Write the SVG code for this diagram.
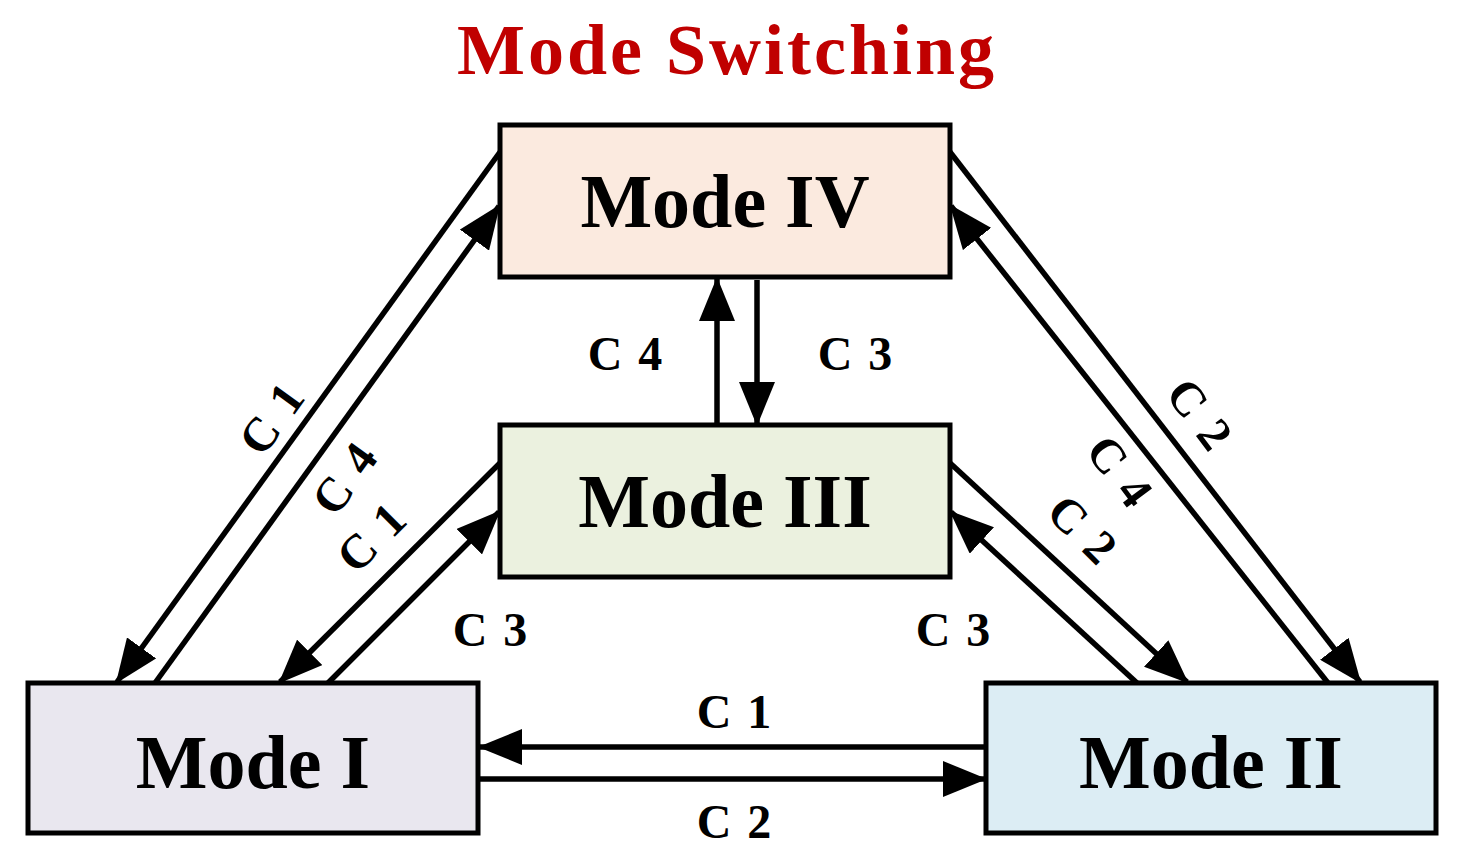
<svg xmlns="http://www.w3.org/2000/svg" width="1459" height="864" viewBox="0 0 1459 864">
<style>
.box{stroke:#000;stroke-width:5}
.mt{font-family:"Liberation Serif",serif;font-weight:bold;font-size:76px;text-anchor:middle}
.lb{font-family:"Liberation Serif",serif;font-weight:bold;font-size:48px;text-anchor:middle;letter-spacing:2px}
.ln{stroke:#000;stroke-width:5.5;fill:none;marker-end:url(#ah)}
</style>
<defs><marker id="ah" markerUnits="userSpaceOnUse" markerWidth="44" markerHeight="36" refX="42" refY="18" orient="auto"><path d="M0,0 L44,18 L0,36 Z" fill="#000"/></marker></defs>
<rect width="1459" height="864" fill="#fff"/>
<text x="727" y="74" font-family="Liberation Serif,serif" font-weight="bold" font-size="72" letter-spacing="3" fill="#c00000" text-anchor="middle">Mode Switching</text>
<g id="connectors">
<line class="ln" x1="757" y1="280" x2="757" y2="424"/>
<line class="ln" x1="717" y1="423" x2="717" y2="279"/>
<line class="ln" x1="500" y1="152" x2="117" y2="682"/>
<line class="ln" x1="155" y1="683" x2="499" y2="206"/>
<line class="ln" x1="500" y1="463" x2="280" y2="682"/>
<line class="ln" x1="328" y1="683" x2="499" y2="512"/>
<line class="ln" x1="950" y1="463" x2="1187" y2="682"/>
<line class="ln" x1="1137" y1="683" x2="951" y2="512"/>
<line class="ln" x1="950" y1="152" x2="1360" y2="682"/>
<line class="ln" x1="1328" y1="683" x2="951" y2="206"/>
<line class="ln" x1="986" y1="747" x2="480" y2="747"/>
<line class="ln" x1="478" y1="779" x2="985" y2="779"/>
<text class="lb" x="626" y="370">C 4</text>
<text class="lb" x="856" y="370">C 3</text>
<text class="lb" x="735" y="728">C 1</text>
<text class="lb" x="735" y="838">C 2</text>
<text class="lb" x="491" y="646">C 3</text>
<text class="lb" x="954" y="646">C 3</text>
<text class="lb" transform="translate(272,418) rotate(-54)" y="16">C 1</text>
<text class="lb" transform="translate(345,478) rotate(-54)" y="16">C 4</text>
<text class="lb" transform="translate(372,537) rotate(-45)" y="16">C 1</text>
<text class="lb" transform="translate(1200,415) rotate(53)" y="16">C 2</text>
<text class="lb" transform="translate(1120,472) rotate(53)" y="16">C 4</text>
<text class="lb" transform="translate(1083,530) rotate(45)" y="16">C 2</text>
</g>
<g id="mode4"><rect class="box" x="500" y="125" width="450" height="152" fill="#fbeadf"/><text class="mt" x="725" y="227">Mode IV</text></g>
<g id="mode3"><rect class="box" x="500" y="425" width="450" height="152" fill="#ebf1df"/><text class="mt" x="725" y="527">Mode III</text></g>
<g id="mode1"><rect class="box" x="28" y="683" width="450" height="150" fill="#e9e7ef"/><text class="mt" x="253" y="788">Mode I</text></g>
<g id="mode2"><rect class="box" x="986" y="683" width="450" height="150" fill="#dcedf4"/><text class="mt" x="1211" y="788">Mode II</text></g>
</svg>
